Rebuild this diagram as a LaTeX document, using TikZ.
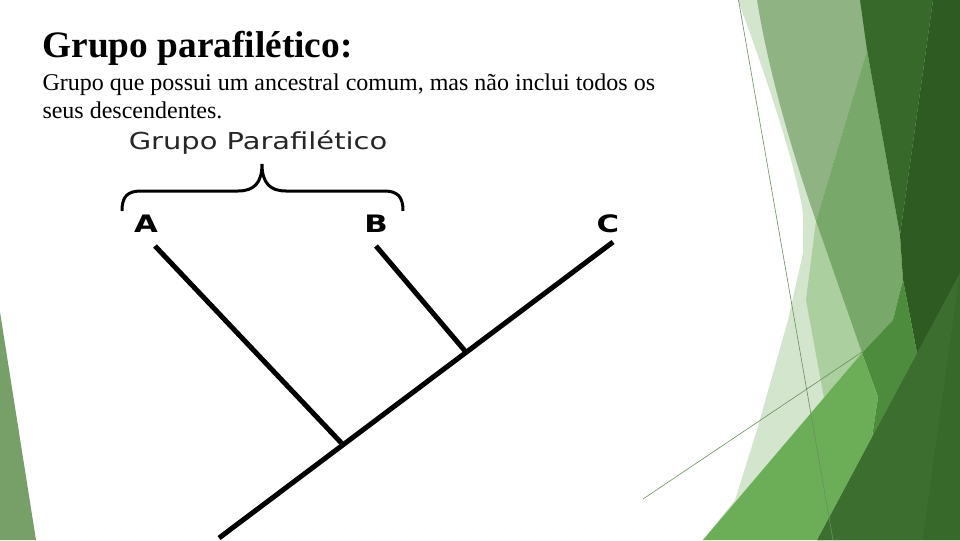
\documentclass[tikz,border=0pt]{standalone}
\usepackage{fontspec}
\usepackage{graphicx}
\setmainfont{Liberation Serif}
\newfontfamily\cladofont{DejaVu Sans}

\definecolor{facetPale}{HTML}{D3E5CC}
\definecolor{facetGray}{HTML}{8FB383}
\definecolor{facetLight}{HTML}{ABCF9E}
\definecolor{facetMid}{HTML}{79A86B}
\definecolor{facetBright}{HTML}{6CAE58}
\definecolor{facetGrass}{HTML}{4D8C3D}
\definecolor{facetDark}{HTML}{376A2A}
\definecolor{facetDeep}{HTML}{2D5B21}
\definecolor{facetLow}{HTML}{3C6F2F}
\definecolor{facetLine}{HTML}{6B8F5F}
\definecolor{facetEdge}{HTML}{779F68}

\tikzset{every picture/.style={line width=0.75pt}}
\tikzset{branch/.style={line width=3.75pt},
  taxon/.style={inner sep=0pt,font=\cladofont\bfseries\fontsize{18}{20}\selectfont},
  thinline/.style={draw=facetLine,line width=0.45pt}}

\begin{document}
\begin{tikzpicture}[x=0.75pt,y=0.75pt,yscale=-1,xscale=1]
	\useasboundingbox (0,0) rectangle (960,540);

	%Shape: Polygon [left edge]
	\fill [facetEdge] (0,312) -- (36,540) -- (0,540) -- cycle ;

	%Shape: Polygon [pale base]
	\fill [facetPale] (738,0) .. controls (760,60) and (795,160) .. (803,213) -- (803,253) -- (788,320) -- (757,430) -- (735,500) -- (703,540) -- (960,540) -- (960,0) -- cycle ;
	%Shape: Polygon [gray facet]
	\fill [facetGray] (757,0) -- (868,0) -- (867,50) -- (816,221) .. controls (795,160) and (770,80) .. (757,0) -- cycle ;
	%Shape: Polygon [light facet]
	\fill [facetLight] (816,221) -- (862,353) -- (824,398) -- (806,300) -- cycle ;
	%Shape: Polygon [mid facet]
	\fill [facetMid] (867,50) -- (900,235) -- (903,280) -- (893,320) -- (862,353) -- (816,221) -- cycle ;
	%Shape: Polygon [dark top]
	\fill [facetDark] (860,0) -- (933,0) -- (900,235) -- (867,50) -- cycle ;
	%Shape: Polygon [deep band]
	\fill [facetDeep] (933,0) -- (960,0) -- (960,540) -- (817,540) -- (872,437) -- (917,353) -- (903,280) -- (900,235) -- cycle ;
	%Shape: Polygon [lower dark]
	\fill [facetLow] (917,353) -- (960,273) -- (923,540) -- (817,540) -- (872,437) -- cycle ;
	\fill [facetDark] (960,273) -- (960,540) -- (923,540) -- cycle ;
	%Shape: Polygon [grass facet]
	\fill [facetGrass] (862,353) -- (893,320) -- (903,280) -- (917,353) -- (872,437) -- (878,397) -- cycle ;
	%Shape: Polygon [bright facet]
	\fill [facetBright] (862,353) -- (878,397) -- (872,437) -- (817,540) -- (703,540) -- cycle ;

	%Straight Lines [thin]
	\draw [thinline] (738.5,0) -- (833,540) ;
	\draw [thinline] (643,499) -- (862,352) ;

	%Title
	\node (title) [anchor=base west, inner sep=0pt, font=\bfseries\fontsize{28}{33}\selectfont] at (42,57) {Grupo parafilético:};
	\node (line1) [anchor=base west, inner sep=0pt, font=\fontsize{18}{21}\selectfont] at (42,90) {Grupo que possui um ancestral comum, mas não inclui todos os};
	\node (line2) [anchor=base west, inner sep=0pt, font=\fontsize{18}{21}\selectfont] at (42,118) {seus descendentes.};

	%Cladogram
	\node (group) [inner sep=0pt, text=black!85, font=\cladofont\fontsize{17.5}{20}\selectfont] at (258,143) {\scalebox{1.24}[1]{Grupo Parafilético}};
	\draw [line width=2.25pt] (122,211) .. controls (122,197) and (127,191) .. (141,191) -- (238,191) .. controls (254,191) and (262,183) .. (262,164) .. controls (262,183) and (270,191) .. (286,191) -- (384,191) .. controls (398,191) and (403,197) .. (403,211) ;

	\node (A) [taxon] at (146,224) {\scalebox{1.28}[1]{A}};
	\node (B) [taxon] at (376,224) {\scalebox{1.28}[1]{B}};
	\node (C) [taxon] at (608,224) {\scalebox{1.28}[1]{C}};

	\coordinate (root) at (219,538);
	\coordinate (tipA) at (155,246);
	\coordinate (tipB) at (376,246);
	\coordinate (tipC) at (613,242);
	\coordinate (jA) at (343,444.7);
	\coordinate (jB) at (466,352.1);

	%Straight Lines [branches]
	\draw [branch] (root) -- (tipC) ;
	\draw [branch] (tipA) -- (jA) ;
	\draw [branch] (tipB) -- (jB) ;

\end{tikzpicture}
\end{document}
